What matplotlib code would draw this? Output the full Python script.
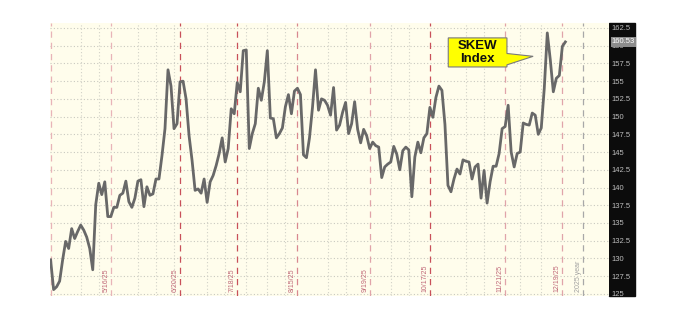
import numpy as np
import matplotlib.pyplot as plt
from matplotlib.patches import Polygon, Rectangle

# SKEW index daily closes, 4/17/25 .. 12/22/25 (one value per trading day)
skew = [129.8, 125.6, 126.0, 126.8, 129.8, 132.4, 131.4, 134.2, 132.8, 133.8,
        134.7, 134.0, 133.0, 131.4, 128.4, 137.6, 140.6, 139.0, 140.8, 135.9,
        135.9, 137.2, 137.2, 138.9, 139.2, 140.9, 138.0, 137.2, 138.5, 140.9,
        141.1, 137.3, 140.1, 138.9, 139.1, 141.2, 141.2, 144.5, 148.3, 156.6,
        154.3, 148.3, 149.0, 154.9, 155.0, 152.5, 147.3, 143.8, 139.6, 139.8,
        139.2, 141.2, 137.9, 140.8, 141.7, 143.1, 144.8, 147.0, 143.6, 145.5,
        151.1, 150.4, 154.8, 153.5, 159.3, 159.4, 145.5, 147.6, 149.0, 154.0,
        152.3, 154.9, 159.3, 149.8, 149.7, 147.0, 147.6, 148.4, 151.4, 153.1,
        150.4, 153.6, 154.0, 153.1, 144.6, 144.2, 147.0, 151.3, 156.6, 150.9,
        152.5, 152.3, 151.6, 150.2, 154.1, 148.1, 148.8, 150.6, 152.0, 147.6,
        149.0, 152.1, 148.2, 146.3, 148.2, 147.3, 145.5, 146.4, 145.9, 145.7,
        141.4, 142.9, 143.3, 143.6, 145.8, 144.7, 142.5, 145.2, 145.7, 145.3,
        138.7, 144.3, 146.4, 144.9, 147.0, 147.6, 151.3, 149.9, 152.7, 154.3,
        153.7, 148.9, 140.3, 139.4, 141.2, 142.6, 141.9, 143.9, 143.7, 143.6,
        141.2, 142.9, 143.3, 138.5, 142.4, 137.8, 140.8, 143.0, 143.0, 144.8,
        148.3, 148.6, 151.6, 145.0, 142.9, 144.8, 145.0, 149.1, 148.9, 148.8,
        150.5, 150.2, 147.5, 148.4, 154.0, 161.8, 158.0, 153.5, 155.4, 155.8,
        159.9, 160.53]

# option expiration markers (trading-day index into skew)
expiry_idx = [20, 43, 62, 82, 106, 126, 151, 170]
expiry_labels = ['5/16/25', '6/20/25', '7/18/25', '8/15/25',
                 '9/19/25', '10/17/25', '11/21/25', '12/19/25']
expiry_colors = ['#e8b4b8', '#c8505a', '#c8505a', '#d88890',
                 '#e0a4aa', '#c8505a', '#e0a4aa', '#e0a4aa']
year_idx = 177
year_label = '2025 year'
grid_idx = [10, 16, 29, 35, 41, 52, 58, 65, 72, 78, 92, 98, 113, 119,
            138, 144, 156, 163]
y_ticks = [125, 127.5, 130, 132.5, 135, 137.5, 140, 142.5, 145, 147.5,
           150, 152.5, 155, 157.5, 160, 162.5]

plt.rcParams['font.family'] = ['Liberation Sans', 'DejaVu Sans']

fig = plt.figure(figsize=(6.88, 3.11), dpi=100)
ax = fig.add_axes([50/688, 15/311, 559/688, 273/311])
ax.set_facecolor('#fffdec')
ax.set_xlim(-0.2, 185.5)
ax.set_ylim(124.7, 163.2)
for s in ax.spines.values():
	s.set_visible(False)

# black price scale band on the right
fig.patches.append(Rectangle((609/688, 15/311), 26/688, 273/311,
                             transform=fig.transFigure, color='#0c0c0c', zorder=-1))

ax.set_xticks([])
ax.yaxis.tick_right()
ax.set_yticks(y_ticks)
ax.set_yticklabels([('%g' % t) for t in y_ticks])
ax.tick_params(axis='y', length=0, pad=2, labelsize=5.5, labelcolor='#bdbdbd')

# dotted grid
for y in y_ticks:
	ax.axhline(y, color='#c9c9c0', linestyle=(0, (1, 2)), linewidth=0.8, zorder=1)
for x in grid_idx:
	ax.axvline(x, color='#d2d2c8', linestyle=(0, (1, 2)), linewidth=0.8, zorder=1)

# expiration lines
ax.axvline(0, color='#e8b4b8', linestyle=(0, (5, 4)), linewidth=0.9, zorder=1)
for x, lab, c in zip(expiry_idx, expiry_labels, expiry_colors):
	ax.axvline(x, color=c, linestyle=(0, (5, 4)), linewidth=0.9, zorder=1)
	ax.text(x - 0.5, 125.2, lab, rotation=90, ha='right', va='bottom',
	        fontsize=5, color='#c06878', zorder=2)
ax.axvline(year_idx, color='#a8a8a8', linestyle=(0, (5, 4)), linewidth=0.9, zorder=1)
ax.text(year_idx - 0.5, 125.2, year_label, rotation=90, ha='right', va='bottom',
        fontsize=5, color='#a0a0a0', zorder=2)

ax.plot(np.arange(len(skew)), skew, color='#686868', linewidth=2.0, zorder=3)

# last value tag
ax.annotate('%.2f' % skew[-1], xy=(1.0, skew[-1]), xycoords=('axes fraction', 'data'),
            xytext=(2, 0), textcoords='offset points', ha='left', va='center',
            fontsize=5.5, color='white', annotation_clip=False,
            bbox=dict(boxstyle='square,pad=0.15', fc='#8c8c8c', ec='none'))

# callout
callout = Polygon([(132.1, 161.1), (151.6, 161.1), (151.6, 158.9), (160.3, 158.5),
                   (151.6, 157.3), (151.6, 157.0), (132.1, 157.0)],
                  closed=True, facecolor='#ffff00', edgecolor='#7a7a7a',
                  linewidth=0.8, zorder=4)
ax.add_patch(callout)
ax.text(141.9, 159.05, 'SKEW\nIndex', ha='center', va='center', fontsize=9.5,
        fontweight='bold', linespacing=1.15, color='#111111', zorder=5)

fig.savefig('out.png', dpi=100)
